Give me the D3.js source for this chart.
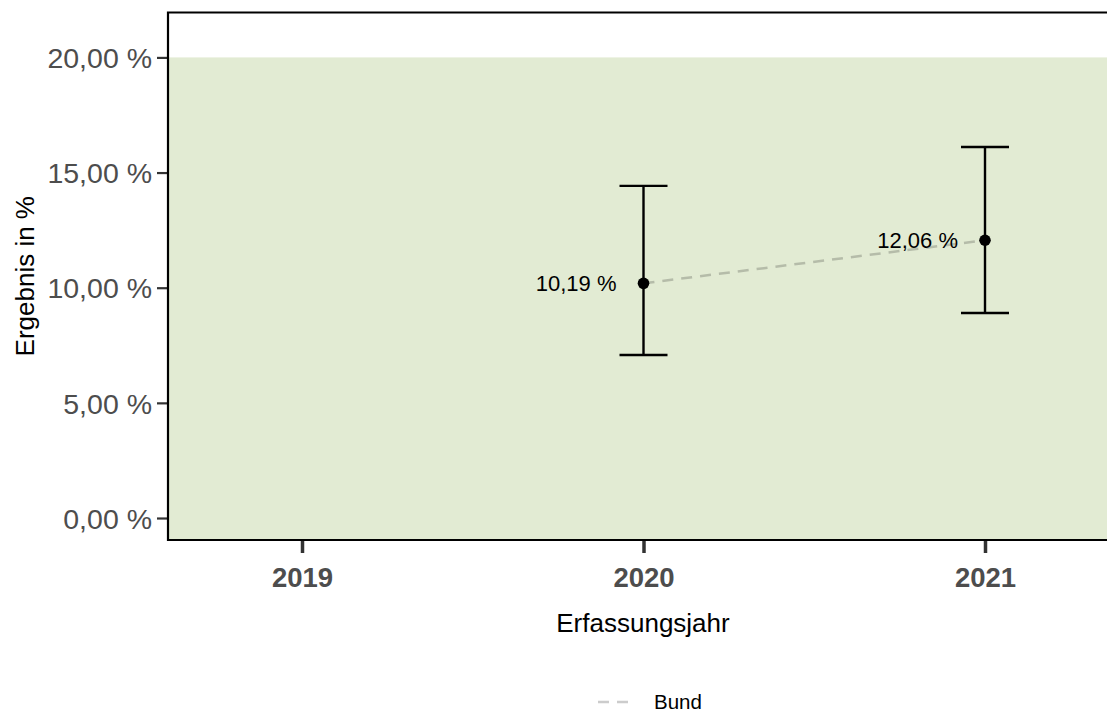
<!DOCTYPE html>
<html><head><meta charset="utf-8">
<script src="https://cdn.jsdelivr.net/npm/d3@7"></script>
<style>body{margin:0;background:#fff}svg{display:block}text{font-family:"Liberation Sans",Arial,sans-serif}</style>
</head><body><svg id="c" width="1107" height="713"></svg>
<script>
const years = [2019, 2020, 2021];
const yearLabels = ["2019", "2020", "2021"];
const pointYears = [2020, 2021];
const values = [10.19, 12.06];
const lower = [7.08, 8.90];
const upper = [14.42, 16.11];
const valueLabels = ["10,19 %", "12,06 %"];
const yTicks = [0, 5, 10, 15, 20];
const yTickLabels = ["0,00 %", "5,00 %", "10,00 %", "15,00 %", "20,00 %"];
const refUpper = 20;

const svg = d3.select("#c");
const L = 168, R = 1107, T = 12.5, B = 540;
const y = d3.scaleLinear().domain([-0.955, 21.95]).range([B, T]);
const x = d3.scaleLinear().domain([2019, 2021]).range([302, 985]);

// reference area
svg.append("rect").attr("x", L).attr("width", R - L)
  .attr("y", y(refUpper)).attr("height", B - y(refUpper)).attr("fill", "#e2ebd3");

// y axis
const ya = svg.append("g").attr("transform", `translate(${L},0)`)
  .call(d3.axisLeft(y).tickValues(yTicks).tickFormat((d,i)=>yTickLabels[i]).tickSize(11).tickPadding(5));
ya.select(".domain").remove();
ya.selectAll(".tick line").attr("stroke", "#333").attr("stroke-width", 2.2);
ya.selectAll(".tick text").attr("fill", "#4d4d4d").attr("font-size", 28.5).attr("dy", "0.36em");

// x axis
const xa = svg.append("g").attr("transform", `translate(0,${B})`)
  .call(d3.axisBottom(x).tickValues(years).tickFormat((d,i)=>yearLabels[i]).tickSize(13).tickPadding(14));
xa.select(".domain").remove();
xa.selectAll(".tick line").attr("stroke", "#333").attr("stroke-width", 3.5);
xa.selectAll(".tick text").attr("fill", "#4d4d4d").attr("font-size", 27.5).attr("font-weight", "bold");

// panel border (left, top, bottom)
svg.append("path").attr("d", `M${R},${T}H${L}V${B}H${R}`).attr("fill", "none").attr("stroke", "#000").attr("stroke-width", 2.2);

// dashed line
const line = d3.line().x((d,i)=>x(pointYears[i])).y(d=>y(d));
svg.append("path").attr("d", line(values)).attr("fill", "none")
  .attr("stroke", "#b5bca9").attr("stroke-width", 2.5).attr("stroke-dasharray", "11,8");

// error bars
const cap = 24;
const g = svg.append("g");
pointYears.forEach((yr, i) => {
  const cx = x(yr);
  g.append("line").attr("x1", cx).attr("x2", cx).attr("y1", y(lower[i])).attr("y2", y(upper[i])).attr("stroke", "#000").attr("stroke-width", 2.4);
  g.append("line").attr("x1", cx-cap).attr("x2", cx+cap).attr("y1", y(lower[i])).attr("y2", y(lower[i])).attr("stroke", "#000").attr("stroke-width", 2.4);
  g.append("line").attr("x1", cx-cap).attr("x2", cx+cap).attr("y1", y(upper[i])).attr("y2", y(upper[i])).attr("stroke", "#000").attr("stroke-width", 2.4);
  g.append("circle").attr("cx", cx).attr("cy", y(values[i])).attr("r", 5.8).attr("fill", "#000");
  g.append("text").attr("x", cx - 27).attr("y", y(values[i])).attr("dy", "0.35em")
    .attr("text-anchor", "end").attr("font-size", 22).attr("fill", "#000").text(valueLabels[i]);
});

// axis titles
svg.append("text").attr("transform", `translate(25,${(T+B)/2}) rotate(-90)`).attr("dy", "0.35em")
  .attr("text-anchor", "middle").attr("font-size", 26).attr("fill", "#000").text("Ergebnis in %");
svg.append("text").attr("x", 643).attr("y", 623).attr("dy", "0.35em").attr("text-anchor", "middle")
  .attr("font-size", 26).attr("fill", "#000").text("Erfassungsjahr");

// legend
svg.append("line").attr("x1", 598).attr("x2", 634).attr("y1", 702).attr("y2", 702)
  .attr("stroke", "#cccccc").attr("stroke-width", 2.5).attr("stroke-dasharray", "11,8");
svg.append("text").attr("x", 654).attr("y", 708.5).attr("font-size", 20.5).attr("fill", "#000").text("Bund");
</script></body></html>
